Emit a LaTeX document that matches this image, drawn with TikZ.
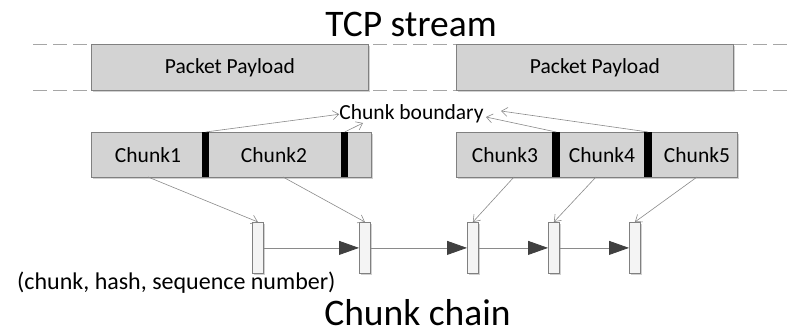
\documentclass[tikz,border=0pt]{standalone}
\usepackage{fontspec}
\setmainfont{Carlito}
\usetikzlibrary{arrows.meta,calc,shadows}
\definecolor{boxfill}{HTML}{D3D3D3}
\definecolor{boxline}{HTML}{808080}
\definecolor{linkfill}{HTML}{F4F4F4}
\definecolor{thinline}{HTML}{8A8A8A}
\definecolor{headcol}{HTML}{404040}
\definecolor{dashcol}{HTML}{A6A6A6}
\begin{document}
\begin{tikzpicture}[x=1pt,y=-1pt,
  shade box/.style={drop shadow={shadow xshift=2pt,shadow yshift=-2pt,opacity=0.3,fill=black!60}},
  payload/.style={draw=boxline,fill=boxfill,line width=0.8pt,anchor=north west,minimum width=277pt,minimum height=46pt,inner sep=0pt,font=\fontsize{21.5}{24}\selectfont,shade box},
  chunkbox/.style={draw=boxline,fill=boxfill,line width=0.8pt,anchor=north west,minimum height=45pt,inner sep=0pt,shade box},
  bar/.style={fill=black,draw=none,anchor=north west,minimum height=45pt,inner sep=0pt},
  link/.style={draw=boxline,fill=linkfill,line width=0.8pt,anchor=north west,minimum width=11pt,minimum height=51pt,inner sep=0pt,shade box},
  lbl/.style={anchor=base,inner sep=0pt,font=\fontsize{21.5}{24}\selectfont},
  big/.style={anchor=base,inner sep=0pt,font=\fontsize{37.5}{40}\selectfont},
  thinarrow/.style={draw=thinline,line width=0.6pt,-{Straight Barb[length=6pt,width=9pt]}},
  chainarrow/.style={draw=thinline,line width=0.8pt,-{Triangle[length=20pt,width=14pt,color=headcol]}},
  dashline/.style={draw=dashcol,line width=0.8pt,dash pattern=on 14pt off 6pt}
]
\useasboundingbox (0,0) rectangle (788,329);

% title
\node[big] (title) at (411,37) {TCP stream};

% dashed stream borders
\coordinate (dl1) at (33,44);
\coordinate (dr1) at (788,44);
\coordinate (dl2) at (33,90);
\coordinate (dr2) at (788,90);
\draw[dashline] (dl1) -- (dr1);
\draw[dashline] (dl2) -- (dr2);

% packet payloads
\node[payload] (p1) at (91,44) {Packet Payload};
\node[payload] (p2) at (456,44) {Packet Payload};

% chunk rows
\node[chunkbox,minimum width=280pt] (r1) at (91,132) {};
\node[chunkbox,minimum width=281pt] (r2) at (456,132) {};
\node[bar,minimum width=7pt] (b1) at (202,132) {};
\node[bar,minimum width=7pt] (b2) at (341,132) {};
\node[bar,minimum width=8pt] (b3) at (552,132) {};
\node[bar,minimum width=8pt] (b4) at (644,132) {};

\node[lbl] (k1) at (148,162) {Chunk1};
\node[lbl] (k2) at (274,162) {Chunk2};
\node[lbl] (k3) at (505,162) {Chunk3};
\node[lbl] (k4) at (602,162) {Chunk4};
\node[lbl] (k5) at (697,162) {Chunk5};

% chunk boundary label and arrows
\node[lbl] (cb) at (411.5,120) {Chunk boundary};
\coordinate (cb2) at (363,123);
\coordinate (cb3) at (486,117);
\coordinate (cb4) at (501,111);
\draw[thinarrow] (b1.north) -- (cb.west);
\draw[thinarrow] (b2.north) -- (cb2);
\draw[thinarrow] (b3.north) -- (cb3);
\draw[thinarrow] (b4.north) -- (cb4);

% chain nodes
\node[link] (c1) at (252,222) {};
\node[link] (c2) at (359,222) {};
\node[link] (c3) at (467,222) {};
\node[link] (c4) at (548,222) {};
\node[link] (c5) at (629,222) {};

\draw[chainarrow] (c1.east) -- (c2.west);
\draw[chainarrow] (c2.east) -- (c3.west);
\draw[chainarrow] (c3.east) -- (c4.west);
\draw[chainarrow] (c4.east) -- (c5.west);

% chunk to chain arrows
\coordinate (s1) at (148,177);
\coordinate (s2) at (283,177);
\coordinate (s3) at (514,177);
\coordinate (s4) at (596,177);
\coordinate (s5) at (697,177);
\draw[thinarrow] (s1) -- (c1.north);
\draw[thinarrow] (s2) -- (c2.north);
\draw[thinarrow] (s3) -- (c3.north);
\draw[thinarrow] (s4) -- (c4.north);
\draw[thinarrow] (s5) -- (c5.north);

% bottom texts
\node[lbl,anchor=base west,font=\fontsize{24}{27}\selectfont] (tuple) at (17,289) {(chunk, hash, sequence number)};
\node[big] (chain) at (417.5,325) {Chunk chain};
\end{tikzpicture}
\end{document}
